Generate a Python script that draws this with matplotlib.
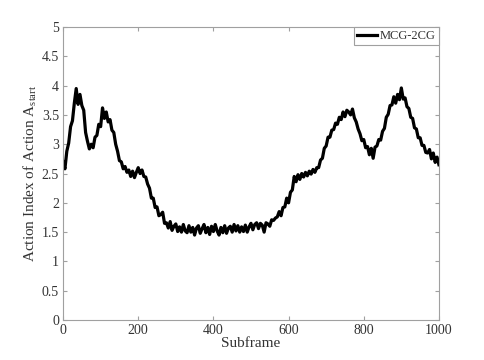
import numpy as np
import matplotlib
matplotlib.use("Agg")
import matplotlib.pyplot as plt

# action index, one value every 5 subframes (0..1000)
action_index = [
    2.70, 2.58, 2.88, 3.02, 3.30, 3.40, 3.70, 3.95, 3.68, 3.85,
    3.66, 3.58, 3.20, 3.05, 2.92, 3.00, 2.94, 3.12, 3.15, 3.34,
    3.30, 3.62, 3.44, 3.55, 3.38, 3.42, 3.24, 3.20, 3.00, 2.88,
    2.72, 2.70, 2.58, 2.62, 2.52, 2.56, 2.45, 2.54, 2.43, 2.52,
    2.60, 2.50, 2.56, 2.45, 2.44, 2.32, 2.25, 2.08, 2.08, 1.92,
    1.93, 1.78, 1.80, 1.84, 1.65, 1.66, 1.57, 1.68, 1.53, 1.60,
    1.64, 1.51, 1.59, 1.50, 1.63, 1.52, 1.49, 1.61, 1.50, 1.58,
    1.45, 1.57, 1.61, 1.48, 1.56, 1.63, 1.49, 1.58, 1.46, 1.60,
    1.51, 1.63, 1.52, 1.45, 1.58, 1.49, 1.61, 1.48, 1.57, 1.60,
    1.50, 1.63, 1.52, 1.61, 1.50, 1.59, 1.51, 1.62, 1.50, 1.59,
    1.65, 1.54, 1.63, 1.66, 1.56, 1.65, 1.62, 1.50, 1.66, 1.64,
    1.60, 1.71, 1.70, 1.74, 1.76, 1.85, 1.78, 1.92, 1.93, 2.08,
    2.00, 2.18, 2.22, 2.45, 2.36, 2.48, 2.40, 2.50, 2.44, 2.52,
    2.46, 2.54, 2.49, 2.57, 2.52, 2.60, 2.60, 2.73, 2.76, 2.93,
    2.97, 3.12, 3.12, 3.24, 3.25, 3.36, 3.34, 3.46, 3.42, 3.55,
    3.47, 3.58, 3.55, 3.50, 3.60, 3.45, 3.38, 3.26, 3.18, 3.06,
    3.08, 2.94, 2.96, 2.82, 2.93, 2.76, 2.95, 2.97, 3.08, 3.07,
    3.22, 3.27, 3.46, 3.51, 3.66, 3.67, 3.81, 3.70, 3.85, 3.76,
    3.96, 3.77, 3.79, 3.64, 3.61, 3.46, 3.44, 3.28, 3.26, 3.11,
    3.11, 2.98, 2.98, 2.86, 2.85, 2.91, 2.75, 2.85, 2.69, 2.78,
    2.65,
]
subframe = np.arange(0, 1001, 5)
x_ticks = [0, 200, 400, 600, 800, 1000]
y_ticks = [0, 0.5, 1, 1.5, 2, 2.5, 3, 3.5, 4, 4.5, 5]

plt.rcParams["font.family"] = ["Liberation Serif", "DejaVu Serif"]
plt.rcParams["mathtext.fontset"] = "custom"
plt.rcParams["mathtext.rm"] = "Liberation Serif"

fig = plt.figure(figsize=(4.85, 3.6), dpi=100)
ax = fig.add_axes([0.130, 0.111, 0.775, 0.814])

ax.plot(subframe, action_index, color="black", lw=2.3, label="MCG-2CG")

ax.set_xlim(0, 1000)
ax.set_ylim(0, 5)
ax.set_xticks(x_ticks)
ax.set_yticks(y_ticks)
ax.set_yticklabels([f"{t:g}" for t in y_ticks])

# matlab-ish box with inward ticks on all sides
for s in ax.spines.values():
    s.set_color("#a0a0a0")
    s.set_linewidth(0.8)
ax.tick_params(direction="in", top=True, right=True, length=3,
               color="#a0a0a0", labelcolor="#333333", labelsize=10, pad=3)

ax.set_xlabel("Subframe", fontsize=11, color="#333333", labelpad=0)
ax.set_ylabel(r"Action Index of Action A$_{\rm start}$", fontsize=11,
              color="#333333", labelpad=2)

leg = ax.legend(loc="upper right", borderaxespad=0, fontsize=9,
                handlelength=1.6, handletextpad=0.2, borderpad=0.25,
                fancybox=False, framealpha=1)
leg.get_frame().set_edgecolor("#a0a0a0")
leg.get_frame().set_linewidth(0.8)
for t in leg.get_texts():
    t.set_color("#333333")

fig.savefig("out.png", dpi=100)
